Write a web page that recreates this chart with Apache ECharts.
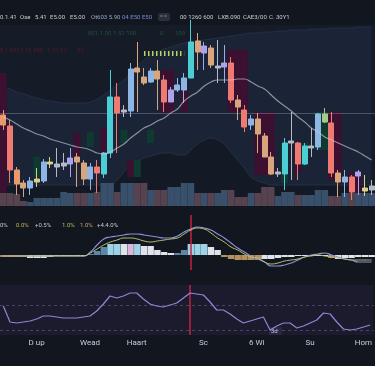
<!DOCTYPE html>
<html><head><meta charset="utf-8">
<script src="https://cdn.jsdelivr.net/npm/echarts@6/dist/echarts.min.js"></script>
<style>html,body{margin:0;padding:0;background:#12161f;}#c{width:375px;height:366px;}</style>
</head><body><div id="c"></div><script>
// ---------- DATA ----------
const categories = ['T1','T2','T3','T4','T5','T6','T7','T8','T9','T10','T11','T12','T13','T14','T15','T16','T17','T18','T19','T20','T21','T22','T23','T24','T25','T26','T27','T28','T29','T30','T31','T32','T33','T34','T35','T36','T37','T38','T39','T40','T41','T42','T43','T44','T45','T46','T47','T48','T49','T50','T51','T52','T53','T54','T55','T56'];
const candleOpen  = [91,80,36,23,18,24,25,42,39,40,42,49,43,27,39,32,53,109,94,95,138,129,124,135,126,104,116,116,128,165,153,158,138,139,143,106,96,81,87,70,49,32,32,63,63,42,58,59,84,83,33,24,29,30,15,16];
const candleClose = [81,36,22,18,25,27,44,44,42,43,48,44,27,39,33,53,109,93,96,137,134,123,135,127,104,116,121,128,164,154,160,141,140,143,106,99,79,87,72,49,32,34,63,65,42,60,60,92,92,33,24,29,14,34,18,20];
const candleLow   = [76,23,11,9,11,19,23,38,29,36,29,19,21,16,13,28,48,53,89,89,94,121,123,96,94,104,114,103,128,136,136,138,123,123,103,86,74,76,53,49,31,29,16,26,26,41,49,56,83,29,9,9,6,11,10,11];
const candleHigh  = [96,86,39,26,29,38,47,49,58,53,58,53,46,43,46,54,136,123,101,143,164,138,138,146,131,119,128,133,186,173,164,161,166,161,149,111,101,91,93,73,54,38,68,94,64,63,78,93,98,94,36,36,31,36,31,26];
const candleTone  = ['o','s','o','t','b','y','b','y','g','g','l','t','t','b','s','c','c','s','g','b','t','t','b','t','s','l','b','b','c','t','l','t','g','l','s','t','s','b','t','t','t','g','c','g','s','c','g','b','n','s','t','b','s','l','y','g'];
const maLine      = [89,86,82,78,75,72,70,67,65,63,61,59,58,56,53,52,54,58,62,68,73,78,81,85,88,93,97,105,110,114,120,124,126,126,126,127,127,124,120,117,111,105,100,95,89,84,78,74,69,66,63,60,57,54,50,46];
const volume      = [13,13,12,5,4,8,8,8,8,14,13,13,13,13,14,23,23,14,23,23,23,23,16,16,16,19,19,23,23,13,13,13,13,16,16,9,9,13,13,19,19,10,14,14,11,11,11,16,16,10,10,13,13,13,13,13];
const bandTop     = [119,117,114,112,110,108,106,105,104,103,103,103,103,104,107,111,116,121,126,133,140,146,151,154,157,159,161,163,164,165,166,167,168,169,170,171,172,173,173,174,174,175,175,176,176,176,177,177,177,178,178,178,178,179,179,179];
const humpTop     = [21,21,21,21,21,21,21,21,21,21,21,21,21,21,21,21,21,26,34,41,45,48,50,52,53,53,51,51,56,62,66,68,66,62,54,46,38,29,25,23,21,21,21,21,21,21,21,21,21,21,21,21,21,21,21,21];
const shadeLow    = [13,null,null,null,null,29,null,null,null,null,null,46,null,59,null,49,null,null,63,29,29,null,63,null,93,93,null,94,null,null,null,null,null,null,94,94,94,null,31,31,31,null,23,null,33,41,null,56,56,26,26,null,3,3,null,null];
const shadeHigh   = [133,null,null,null,null,49,null,null,null,null,null,73,null,74,null,78,null,null,76,46,46,null,76,null,136,136,null,116,null,null,null,null,null,null,156,156,156,null,94,94,94,null,63,null,63,63,null,94,94,94,94,null,33,33,null,null];
const shadeTone   = ['r',null,null,null,null,'g',null,null,null,null,null,'r',null,'g',null,'r',null,null,'g','r','g',null,'g',null,'r','r',null,'r',null,null,null,null,null,null,'r','r','r',null,'r','r','r',null,'g',null,'r','g',null,'g','g','r','r',null,'r','r',null,null];
const macdHist    = [-2,-2,-2,-2,-3,-3,-3,-2,-1,-1,-1,-1,-1,1,4,8,11,11,11,11,11,9,9,5,3,2,2,5,11,11,11,8,5,-2,-4,-5,-5,-5,-5,-4,-4,-3,-2,-2,-1,-1,-1,-1,-1,-3,-4,-3,-3,-2,-2,-2];
const macdTone    = ['t','t','t','t','w','w','w','w','w','w','w','w','w','s','s','s','c','c','w','p','c','w','w','w','w','w','s','s','c','c','c','w','w','t','t','t','t','t','t','w','w','w','w','w','w','w','w','w','w','t','w','w','w','w','w','w'];
const macdFast    = [-1,-1,-1,-1,-1,-1,-1,-1,-1,-1,-1,-1,-1,3,10,16,18,19,20,21,21,20,19,18,17,17,19,23,26,28,27,25,21,17,12,7,3,-1,-4,-7,-11,-11,-10,-8,-5,-2,0,1,2,0,-2,-4,-5,-7,-7,-7];
const macdSlow    = [-1,-1,-1,-1,-1,-1,-1,-1,-1,-1,-1,-1,-1,2,6,10,13,15,17,17,16,14,13,14,15,16,17,21,25,27,26,22,17,13,8,5,1,-2,-3,-7,-9,-8,-6,-5,-4,-2,-1,0,-1,-2,-3,-4,-5,-5,-5,-5];
const rsi         = [58,26,24,26,28,32,38,38,36,34,34,34,36,38,48,62,78,74,78,84,84,72,62,58,56,60,64,74,84,82,80,66,50,50,42,32,24,28,32,36,10,18,24,24,14,18,24,30,44,42,26,12,10,12,16,20];
const tickIndex   = [5,13,20,30,38,46,54];
const tickText    = ['D up','Wead','Haart','Sc','6 Wi','Su','Hom'];
const headerText  = ['0.1.41','Ose','5.41','E5.00','E5.00','Ot603 5.90','04 E50 E50','00 1260 600','LXB.090','CAE3/00','C. 30Y1'];
const macdText    = ['0%','0.0%','+0.5%','1.0%','1.0%','+4.4.0%'];
const greenText   = ['001 1.00','1.51 100','0','100'];
const redText     = ['0.1 MO','1.19 880','1.51 E2','00 ..'];
const refLevel    = 93;
const dashLevel   = 153;
const rsiLevels   = [60, 10];
const markerIndex = 28;

// ---------- STYLE / LAYOUT ----------
const toneColor = {o:'#e99a6c', s:'#ee7a72', t:'#d9a57c', b:'#8db6e4', c:'#4ccfd4', l:'#aaa4ea', y:'#d6cf86', g:'#b6bac6', n:'#a6c98c'};
const bearSet = ['o','s','t'];
const histColor = {t:'#b8905f', w:'#dfe4ea', s:'#5d87a6', c:'#9dd3e6', p:'#d8b8d8'};
const shadeColor = {r:'#3c1030', g:'#0f3a30'};
const FONT = 'Roboto';
const headerX = [0,20,35,50,70,91,122,180,218,243,269];
const headerCol = ['#c8ccd4','#c8ccd4','#c8ccd4','#c8ccd4','#c8ccd4','#98a6c6','#6f8fd6','#c8ccd4','#c8ccd4','#c8ccd4','#c8ccd4'];
const macdX = [0,16,35,62,80,97];
const macdCol = ['#c8ccd4','#c8b060','#c0c4cc','#a8c050','#c8a070','#c8ccd4'];
const greenX = [88,113,160,175];
const redX = [0,20,47,77];

const L = -3, W = 381;
const chart = echarts.init(document.getElementById('c'), null, {renderer:'canvas', width:375, height:366});

const candleData = candleOpen.map((o,i)=>{
  const c = toneColor[candleTone[i]];
  return {value:[o, candleClose[i], candleLow[i], candleHigh[i]], itemStyle:{color:c, color0:c, borderColor:c, borderColor0:c}};
});
const volData = volume.map((v,i)=>({value:v, itemStyle:{color: bearSet.includes(candleTone[i]) ? '#56434f' : '#38506a'}}));
const histData = macdHist.map((v,i)=>({value:v, itemStyle:{color:histColor[macdTone[i]]}}));
const shBase = shadeLow.map(v=> v==null ? '-' : v);
const shTop = shadeHigh.map((v,i)=> v==null ? '-' : {value: v - shadeLow[i], itemStyle:{color: shadeColor[shadeTone[i]]}});

const graphic = [];
headerText.forEach((t,i)=>graphic.push({type:'text', left:headerX[i], top:14, style:{text:t, fill:headerCol[i], font:'6px '+FONT}}));
graphic.push({type:'rect', shape:{x:158,y:13,width:12,height:8,r:2}, style:{fill:'#2a2f3d'}});
graphic.push({type:'text', left:160, top:14, style:{text:'= =', fill:'#8a90a0', font:'5px '+FONT}});
greenText.forEach((t,i)=>graphic.push({type:'text', left:greenX[i], top:30, style:{text:t, fill:'#1d5439', font:'6px '+FONT}}));
redText.forEach((t,i)=>graphic.push({type:'text', left:redX[i], top:47, style:{text:t, fill:'#561a2c', font:'6px '+FONT}}));
macdText.forEach((t,i)=>graphic.push({type:'text', left:macdX[i], top:222, style:{text:t, fill:macdCol[i], font:'6px '+FONT}}));
graphic.push({type:'rect', shape:{x:269,y:327,width:13,height:8,r:1}, style:{fill:'#2a2840'}});
graphic.push({type:'text', left:271, top:328, style:{text:'3d', fill:'#c8c8d8', font:'6px '+FONT}});

const xAx = (g, show) => ({type:'category', gridIndex:g, data:categories, boundaryGap:true, show:show,
  axisLine:{show:false}, axisTick:{show:false}, splitLine:{show:false},
  axisLabel:{show:show, interval:0, margin:4, color:'#c8ccd6', fontSize:8, fontFamily:FONT,
    formatter:(v,idx)=>{const k = tickIndex.indexOf(idx); return k>=0 ? tickText[k] : '';}}});

chart.setOption({
  backgroundColor:'#12161f',
  animation:false,
  graphic: graphic,
  grid:[
    {left:L, width:W, top:25, height:181, show:true, backgroundColor:'#151b27', borderWidth:0},
    {left:L, width:W, top:176, height:30},
    {left:L, width:W, top:215, height:55},
    {left:L, width:W, top:285, height:50, show:true, backgroundColor:'#1c1a2d', borderWidth:0}
  ],
  xAxis:[xAx(0,false), xAx(1,false), xAx(2,false), xAx(3,true)],
  yAxis:[
    {gridIndex:0, min:0, max:181, show:false},
    {gridIndex:1, min:0, max:30, show:false},
    {gridIndex:2, min:-15, max:40, show:false},
    {gridIndex:3, min:0, max:100, show:false}
  ],
  series:[
    {type:'line', xAxisIndex:0, yAxisIndex:0, data:bandTop, smooth:true, symbol:'none', z:1,
      lineStyle:{color:'#243147', width:1}, areaStyle:{color:'#1a2436', opacity:1}},
    {type:'line', xAxisIndex:0, yAxisIndex:0, data:humpTop, smooth:true, symbol:'none', z:2,
      lineStyle:{color:'#283142', width:1}, areaStyle:{color:'#131a25', opacity:1}},
    {type:'bar', xAxisIndex:0, yAxisIndex:0, stack:'sh', data:shBase, barWidth:7, z:3, silent:true,
      itemStyle:{color:'rgba(0,0,0,0)'}},
    {type:'bar', xAxisIndex:0, yAxisIndex:0, stack:'sh', data:shTop, barWidth:7, z:3, silent:true},
    {type:'line', xAxisIndex:0, yAxisIndex:0, data:maLine, smooth:true, symbol:'none', z:6,
      lineStyle:{color:'rgba(200,204,212,0.65)', width:1.2},
      markLine:{silent:true, symbol:'none', label:{show:false}, data:[
        {yAxis:refLevel, lineStyle:{color:'rgba(130,145,170,0.45)', type:'solid', width:1}},
        [{coord:[categories[21], dashLevel]},{coord:[categories[27], dashLevel]}]
      ], lineStyle:{color:'#b8d65c', width:5, type:[1.5,2.5]}}},
    {type:'candlestick', xAxisIndex:0, yAxisIndex:0, data:candleData, barWidth:5.5, z:5, clip:false},
    {type:'bar', xAxisIndex:1, yAxisIndex:1, data:volData, barCategoryGap:'0%', z:4},
    {type:'bar', xAxisIndex:2, yAxisIndex:2, data:histData, barCategoryGap:'4%', z:3},
    {type:'line', xAxisIndex:2, yAxisIndex:2, data:macdFast, smooth:true, symbol:'none', z:5,
      lineStyle:{color:'#8a8fd8', width:1.2},
      markLine:{silent:true, symbol:'none', label:{show:false}, data:[{xAxis:categories[markerIndex]}],
        lineStyle:{color:'#c8203f', width:1.5, type:'solid'}}},
    {type:'line', xAxisIndex:2, yAxisIndex:2, data:macdSlow, smooth:true, symbol:'none', z:5,
      lineStyle:{color:'#b8c070', width:1}},
    {type:'line', xAxisIndex:3, yAxisIndex:3, data:rsi, symbol:'none', z:5,
      lineStyle:{color:'#8f86d6', width:1.2},
      markLine:{silent:true, symbol:'none', label:{show:false}, data:[
        {yAxis:rsiLevels[0], lineStyle:{color:'rgba(160,150,200,0.35)', type:[3,3], width:1}},
        {yAxis:rsiLevels[1], lineStyle:{color:'rgba(160,150,200,0.35)', type:[3,3], width:1}},
        {xAxis:categories[markerIndex], lineStyle:{color:'#c8203f', width:1.5, type:'solid'}}
      ]}}
  ]
});
</script></body></html>
